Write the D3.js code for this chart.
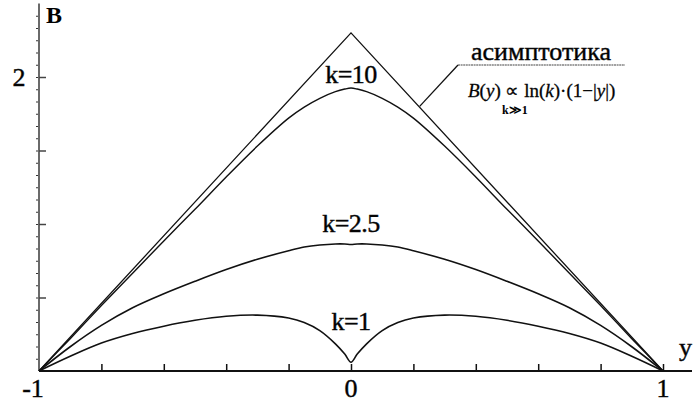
<!DOCTYPE html>
<html>
<head>
<meta charset="utf-8">
<script src="https://cdn.jsdelivr.net/npm/d3@7"></script>
<style>
  body { margin: 0; background: #fff; }
  svg text { font-family: 'Liberation Serif'; }
  .heavy { stroke: #111; stroke-width: 0.45px; }
</style>
</head>
<body>
<div id="plot"></div>
<script>
// data ---------------------------------------------------------------------------------
var yGrid = [-1, -0.9, -0.8, -0.7, -0.6, -0.5, -0.4, -0.3, -0.2, -0.15, -0.1, -0.05, -0.02, 0,
             0.02, 0.05, 0.1, 0.15, 0.2, 0.3, 0.4, 0.5, 0.6, 0.7, 0.8, 0.9, 1];

var bK10 = [0, 0.22, 0.445, 0.665, 0.885, 1.10, 1.32, 1.53, 1.72, 1.795, 1.855, 1.90, 1.918, 1.925,
            1.918, 1.90, 1.855, 1.795, 1.72, 1.53, 1.32, 1.10, 0.885, 0.665, 0.445, 0.22, 0];

var bK25 = [0, 0.165, 0.31, 0.43, 0.525, 0.61, 0.69, 0.76, 0.818, 0.843, 0.857, 0.864, 0.864, 0.861,
            0.864, 0.864, 0.857, 0.843, 0.818, 0.76, 0.69, 0.61, 0.525, 0.43, 0.31, 0.165, 0];

var bK1 = [0, 0.10, 0.19, 0.255, 0.305, 0.345, 0.372, 0.38, 0.36, 0.33, 0.275, 0.185, 0.115, 0.06,
           0.115, 0.185, 0.275, 0.33, 0.36, 0.38, 0.372, 0.345, 0.305, 0.255, 0.19, 0.10, 0];

// asymptote ln(k)(1-|y|) for k=10
var yAsym = [-1, 0, 1];
var bAsym = [0, 2.30, 0];

var curveLabels = ["k=10", "k=2.5", "k=1"];
var labelAt = [1.96, 0.945, 0.28];   // label baselines (B units)

var xTicks = [-0.8, -0.6, -0.4, -0.2, 0, 0.2, 0.4, 0.6, 0.8, 1];
var xTickLabels = [-1, 0, 1];
var yMajor = [0.5, 1, 1.5, 2];
var yTickLabels = [2];

// layout ---------------------------------------------------------------------------------
var width = 694, height = 406;

var x = d3.scaleLinear().domain([-1, 1]).range([39, 663]);
var y = d3.scaleLinear().domain([0, 2.5]).range([371, 3.5]);

var svg = d3.select("#plot").append("svg")
    .attr("width", width)
    .attr("height", height);

// y axis (grey) with minor dots on the left and major ticks to the right
svg.append("line")
    .attr("x1", x(-1)).attr("x2", x(-1))
    .attr("y1", y(0)).attr("y2", y(2.5))
    .attr("stroke", "#6a6a6a")
    .attr("stroke-width", 2);

var yMinor = d3.range(0, 2.5, 0.5 / 6).slice(1);
svg.append("g")
    .attr("transform", "translate(" + (x(-1) - 1) + ",0)")
    .call(d3.axisLeft(y).tickValues(yMinor).tickSize(2).tickFormat(""))
    .call(function(g) { g.select(".domain").remove(); })
    .selectAll("line").attr("stroke", "#333").attr("stroke-width", 1.2);

svg.append("g")
    .attr("transform", "translate(" + x(-1) + ",0)")
    .call(d3.axisLeft(y).tickValues(yMajor).tickSize(-7).tickFormat(""))
    .call(function(g) { g.select(".domain").remove(); })
    .selectAll("line").attr("stroke", "#444").attr("stroke-width", 1.5);

svg.selectAll(".ylab")
    .data(yTickLabels)
  .enter().append("text")
    .attr("class", "ylab heavy")
    .attr("x", 19)
    .attr("y", function(d) { return y(d) + 9; })
    .attr("text-anchor", "middle")
    .style("font-size", "26px")
    .text(function(d) { return d; });

svg.append("text")
    .attr("x", 46).attr("y", 23)
    .style("font-size", "24px")
    .style("font-weight", "bold")
    .text("B");

// x axis
svg.append("line")
    .attr("x1", x(-1)).attr("x2", 692)
    .attr("y1", y(0)).attr("y2", y(0))
    .attr("stroke", "#111")
    .attr("stroke-width", 2);

svg.append("g")
    .attr("transform", "translate(0," + y(0) + ")")
    .call(d3.axisBottom(x).tickValues(xTicks).tickSize(-7).tickFormat(""))
    .call(function(g) { g.select(".domain").remove(); })
    .selectAll("line").attr("stroke", "#111").attr("stroke-width", 1.5);

svg.selectAll(".xlab")
    .data(xTickLabels)
  .enter().append("text")
    .attr("class", "xlab heavy")
    .attr("x", function(d) { return x(d) + (d < 0 ? -6 : 0); })
    .attr("y", 397)
    .attr("text-anchor", "middle")
    .style("font-size", "26px")
    .text(function(d) { return d; });

svg.append("text")
    .attr("class", "heavy")
    .attr("x", 679).attr("y", 356)
    .style("font-size", "26px")
    .text("y");

// curves ---------------------------------------------------------------------------------
var smooth = d3.line()
    .x(function(d) { return x(d[0]); })
    .y(function(d) { return y(d[1]); })
    .curve(d3.curveCatmullRom.alpha(0.5));

var straight = d3.line()
    .x(function(d) { return x(d[0]); })
    .y(function(d) { return y(d[1]); });

svg.append("path")
    .attr("d", straight(d3.zip(yAsym, bAsym)))
    .attr("fill", "none")
    .attr("stroke", "#111")
    .attr("stroke-width", 1.3);

[bK10, bK25, bK1].forEach(function(vals, i) {
  svg.append("path")
    .attr("d", smooth(d3.zip(yGrid, vals)))
    .attr("fill", "none")
    .attr("stroke", "#111")
    .attr("stroke-width", i == 0 ? 1.4 : 1.6);
});

svg.selectAll(".klab")
    .data(curveLabels)
  .enter().append("text")
    .attr("class", "klab heavy")
    .attr("x", x(0))
    .attr("y", function(d, i) { return y(labelAt[i]); })
    .attr("text-anchor", "middle")
    .style("font-size", "26px")
    .style("letter-spacing", "-0.5px")
    .text(function(d) { return d; });

// annotation -----------------------------------------------------------------------------
var noteX = 458, noteY = 65;
svg.append("line")
    .attr("x1", noteX).attr("x2", 625)
    .attr("y1", noteY).attr("y2", noteY)
    .attr("stroke", "#444")
    .attr("stroke-width", 1.2)
    .attr("stroke-dasharray", "2,0.6");

svg.append("line")
    .attr("x1", noteX).attr("y1", noteY)
    .attr("x2", x(0.22)).attr("y2", y(1.80))
    .attr("stroke", "#111")
    .attr("stroke-width", 1.3);

svg.append("text")
    .attr("class", "heavy")
    .attr("x", 541).attr("y", 60)
    .attr("text-anchor", "middle")
    .style("font-size", "26px")
    .text("асимптотика");

var f = svg.append("text")
    .attr("x", 468).attr("y", 97)
    .style("font-size", "19px")
    .style("stroke", "#111")
    .style("stroke-width", "0.3px");
f.append("tspan").style("font-style", "italic").text("B");
f.append("tspan").text("(");
f.append("tspan").style("font-style", "italic").text("y");
f.append("tspan").text(") \u221D ln(");
f.append("tspan").style("font-style", "italic").text("k");
f.append("tspan").text(")\u00B7(1\u2212|");
f.append("tspan").style("font-style", "italic").text("y");
f.append("tspan").text("|)");

svg.append("text")
    .attr("x", 502).attr("y", 114)
    .style("font-size", "12px")
    .style("font-weight", "bold")
    .text("k\u226B1");
</script>
</body>
</html>
